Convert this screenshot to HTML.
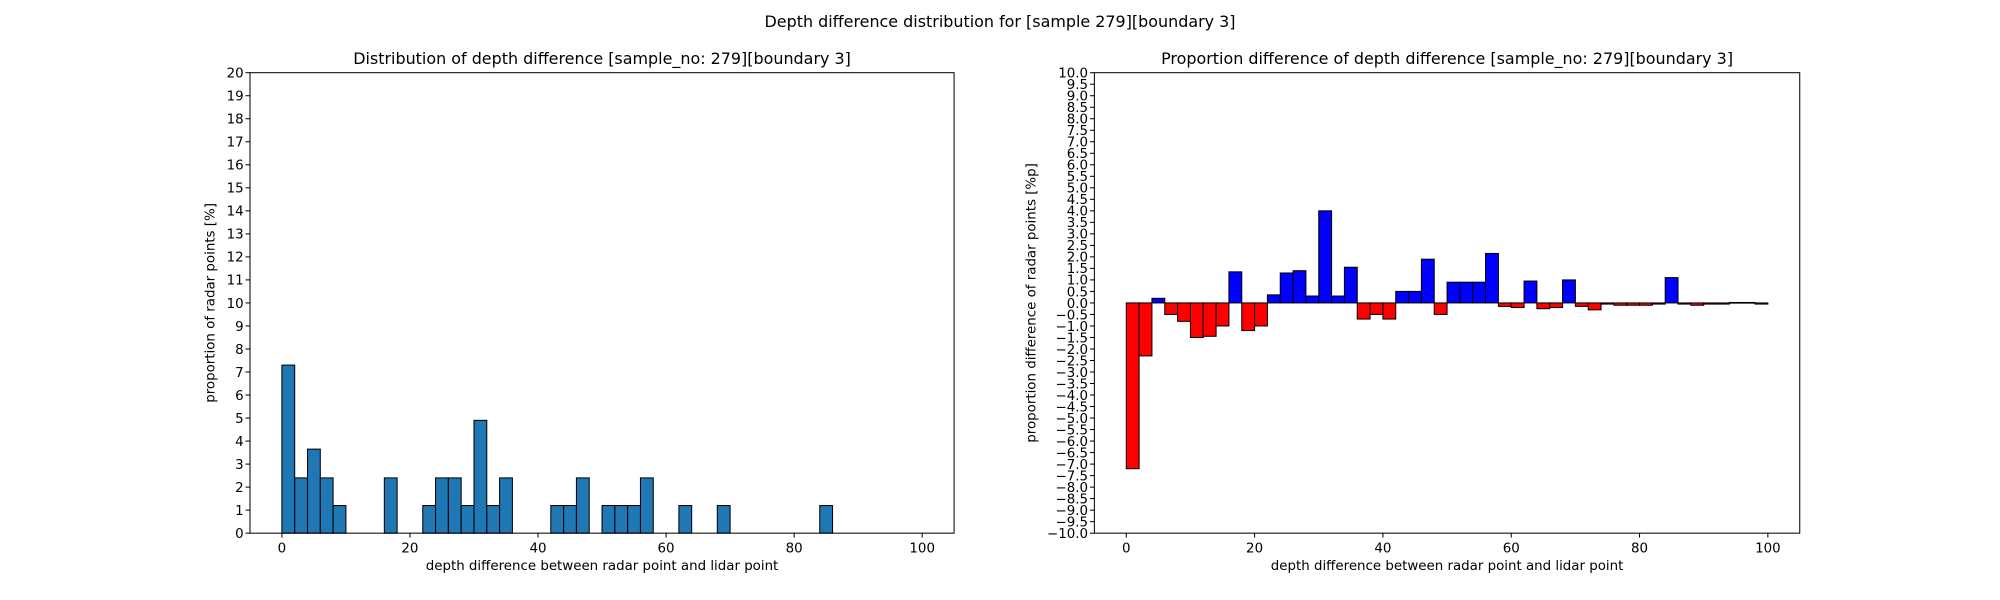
<!DOCTYPE html>
<html><head><meta charset="utf-8"><style>
body{margin:0;background:#fff;}
svg{display:block;font-family:"DejaVu Sans","Liberation Sans",sans-serif;}
</style></head><body>
<svg id="c" width="2000" height="600" viewBox="0 0 1568 470.4" preserveAspectRatio="none" xmlns="http://www.w3.org/2000/svg"></svg>
<script>
const leftValues=[7.3,2.4,3.65,2.4,1.2,0,0,0,2.4,0,0,1.2,2.4,2.4,1.2,4.9,1.2,2.4,0,0,0,1.2,1.2,2.4,0,1.2,1.2,1.2,2.4,0,0,1.2,0,0,1.2,0,0,0,0,0,0,0,1.2,0,0,0,0,0,0,0];
const diffValues=[-7.2,-2.3,0.2,-0.5,-0.8,-1.5,-1.45,-1.0,1.35,-1.2,-1.0,0.35,1.3,1.4,0.3,4.0,0.3,1.55,-0.7,-0.5,-0.7,0.5,0.5,1.9,-0.5,0.9,0.9,0.9,2.15,-0.15,-0.2,0.95,-0.25,-0.2,1.0,-0.15,-0.3,-0.05,-0.1,-0.1,-0.1,-0.05,1.1,-0.05,-0.1,-0.05,-0.05,0.02,0.02,-0.05];
const binWidth=2;
const xTicks=[0,20,40,60,80,100];
const leftYTicks=[0,1,2,3,4,5,6,7,8,9,10,11,12,13,14,15,16,17,18,19,20];
const rightYTicks=[];for(let v=-10;v<=10.001;v+=0.5)rightYTicks.push(Math.round(v*10)/10);

const svg=document.getElementById('c');const NS='http://www.w3.org/2000/svg';
function el(t,a,txt){const e=document.createElementNS(NS,t);for(const k in a)e.setAttribute(k,a[k]);if(txt!==undefined)e.textContent=txt;svg.appendChild(e);return e;}
let t=el('text',{x:784,y:21,'text-anchor':'middle','font-size':12.5,fill:'#000'},'Depth difference distribution for [sample 279][boundary 3]');



function panel(px0,px1,py0,py1,ymin,ymax,yticks,fmt,title,ylabel,pfx,ylx){
  const xs=v=>px0+25+v*(px1-px0-50)/100;
  const ys=v=>py1-(v-ymin)*(py1-py0)/(ymax-ymin);
  return {xs,ys,draw(){
    let e=el('text',{x:(px0+px1)/2,y:py0-7,'text-anchor':'middle','font-size':12.5},title);
    
    
    for(const v of xTicks){el('line',{x1:xs(v),x2:xs(v),y1:py1,y2:py1+3.5,stroke:'#000','stroke-width':0.8});
      e=el('text',{x:xs(v),y:py1+15,'text-anchor':'middle','font-size':10.5},String(v));
      
      }
    for(const v of yticks){el('line',{x1:px0-3.5,x2:px0,y1:ys(v),y2:ys(v),stroke:'#000','stroke-width':0.8});
      e=el('text',{x:px0-5,y:ys(v)+3.8,'text-anchor':'end','font-size':10.5},fmt(v));
      
      }
    e=el('text',{x:(px0+px1)/2,y:py1+29,'text-anchor':'middle','font-size':10.5},'depth difference between radar point and lidar point');
    
    
    e=el('text',{x:0,y:0,'text-anchor':'middle','font-size':10.5,transform:`translate(${ylx},${(py0+py1)/2}) rotate(-90)`},ylabel);
    
    
  },frame(){let r=el('rect',{x:px0,y:py0,width:px1-px0,height:py1-py0,fill:'none',stroke:'#000','stroke-width':0.8});
    
    }};
}
const L=panel(196,748,57,418,0,20,leftYTicks,v=>String(v),'Distribution of depth difference [sample_no: 279][boundary 3]','proportion of radar points [%]','left',168);
L.draw();
leftValues.forEach((v,i)=>{if(v<=0)return;const x0=L.xs(i*binWidth),x1=L.xs((i+1)*binWidth);
  const r=el('rect',{x:x0,y:L.ys(v),width:x1-x0,height:L.ys(0)-L.ys(v),fill:'#1f77b4',stroke:'#000','stroke-width':0.8});
  
  });
L.frame();
const R=panel(858,1411,57,418,-10,10,rightYTicks,v=>v.toFixed(1).replace('-','−'),'Proportion difference of depth difference [sample_no: 279][boundary 3]','proportion difference of radar points [%p]','right',812);
R.draw();
diffValues.forEach((v,i)=>{const x0=R.xs(i*binWidth),x1=R.xs((i+1)*binWidth);const y0=R.ys(Math.max(v,0)),y1=R.ys(Math.min(v,0));
  const r=el('rect',{x:x0,y:y0,width:x1-x0,height:Math.max(y1-y0,0.5),fill:v>=0?'#0000ff':'#ff0000',stroke:'#000','stroke-width':0.8});
  
  });
R.frame();
</script>
</body></html>
